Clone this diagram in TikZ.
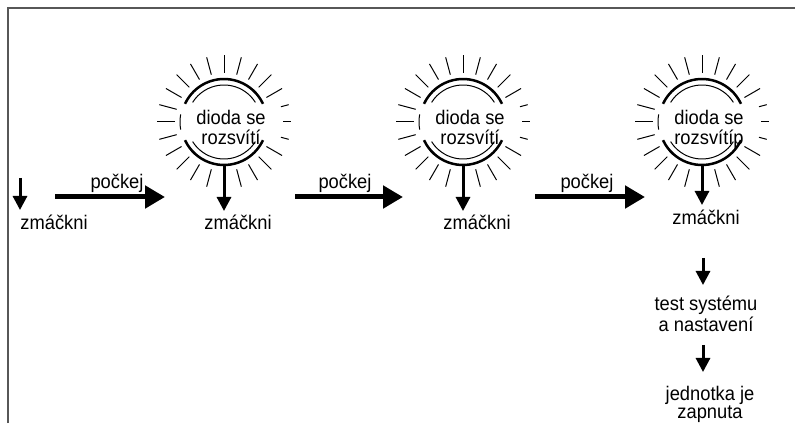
\documentclass[tikz,border=0pt]{standalone}
\usepackage{fontspec}
\setmainfont{Liberation Sans}[FakeStretch=0.93]
\usetikzlibrary{arrows.meta}
\definecolor{framegray}{HTML}{575757}
\tikzset{
  lbl/.style={inner sep=0pt, font=\fontsize{19.7}{20}\selectfont},
  harrow/.style={line width=5pt, -{Triangle[length=20pt,width=22pt]}},
  varrow/.style={line width=3pt, -{Triangle[length=14pt,width=14pt]}},
  ray/.style={line width=1pt},
  rim/.style={line width=2.5pt},
  innerrim/.style={line width=1pt},
  sunbody/.style={circle, minimum size=86pt, inner sep=0pt},
  pics/sunburst/.style={code={
    % rays around the lamp
    \foreach \a in {30,45,...,330} \draw[ray] (\a:49) -- (\a:67);
    \foreach \a in {-15,0,15} \draw[ray] (\a:59) -- (\a:67);
    % thick outer rim, open at the sides
    \draw[rim] (25:43) arc[start angle=25,end angle=155,radius=43];
    \draw[rim] (205:43) arc[start angle=205,end angle=335,radius=43];
    % thin inner rim
    \draw[innerrim] (32:37) arc[start angle=32,end angle=148,radius=37];
    \draw[innerrim] (212:37) arc[start angle=212,end angle=328,radius=37];
    \draw[innerrim] (170:44) arc[start angle=170,end angle=190,radius=44];
  }},
}
\begin{document}
\begin{tikzpicture}[x=1pt,y=1pt]
\useasboundingbox (0,0) rectangle (795,423);
% frame
\draw[framegray, line width=2.5pt] (8,0) -- (8,415) -- (795,415);

% first press
\coordinate (p0) at (20,245);
\coordinate (e0) at (20,213);
\draw[varrow] (p0) -- (e0);
\node[lbl, anchor=base] (z0) at (54,193) {zmáčkni};

% wait arrows
\coordinate (h1a) at (55,226);  \coordinate (h1b) at (165,226);
\coordinate (h2a) at (295,226); \coordinate (h2b) at (403,226);
\coordinate (h3a) at (535,226); \coordinate (h3b) at (645,226);
\draw[harrow] (h1a) -- (h1b);
\draw[harrow] (h2a) -- (h2b);
\draw[harrow] (h3a) -- (h3b);
\node[lbl, anchor=base] (w1) at (117,234) {počkej};
\node[lbl, anchor=base] (w2) at (345,234) {počkej};
\node[lbl, anchor=base] (w3) at (587,234) {počkej};

% lamps
\node[sunbody] (s1) at (224,301) {};
\node[sunbody] (s2) at (463,301) {};
\node[sunbody] (s3) at (702,301) {};
\pic at (s1) {sunburst};
\pic at (s2) {sunburst};
\pic at (s3) {sunburst};
\node[lbl, align=center, anchor=north] (t1) at (231,313) {dioda se\\rozsvítí};
\node[lbl, align=center, anchor=north] (t2) at (470,313) {dioda se\\rozsvítí};
\node[lbl, align=center, anchor=north] (t3) at (709,313) {dioda se\\rozsvítíp};

% presses below the lamps
\coordinate (e1) at (224,212);
\coordinate (e2) at (463,212);
\coordinate (e3) at (702,218);
\draw[varrow] (s1.south) -- (e1);
\draw[varrow] (s2.south) -- (e2);
\draw[varrow] (s3.south) -- (e3);
\node[lbl, anchor=base] (z1) at (238,193) {zmáčkni};
\node[lbl, anchor=base] (z2) at (477,193) {zmáčkni};
\node[lbl, anchor=base] (z3) at (706,198) {zmáčkni};

% final steps
\coordinate (q1) at (703,165); \coordinate (q2) at (703,138);
\draw[varrow] (q1) -- (q2);
\node[lbl, align=center, anchor=north, font=\fontsize{19.7}{21.6}\selectfont] (ts) at (706,127.5) {test systému\\a nastavení};
\coordinate (q3) at (703,78); \coordinate (q4) at (703,51);
\draw[varrow] (q3) -- (q4);
\node[lbl, align=center, anchor=north, font=\fontsize{19.7}{18}\selectfont] (jz) at (710,37) {jednotka je\\zapnuta};
\end{tikzpicture}
\end{document}
